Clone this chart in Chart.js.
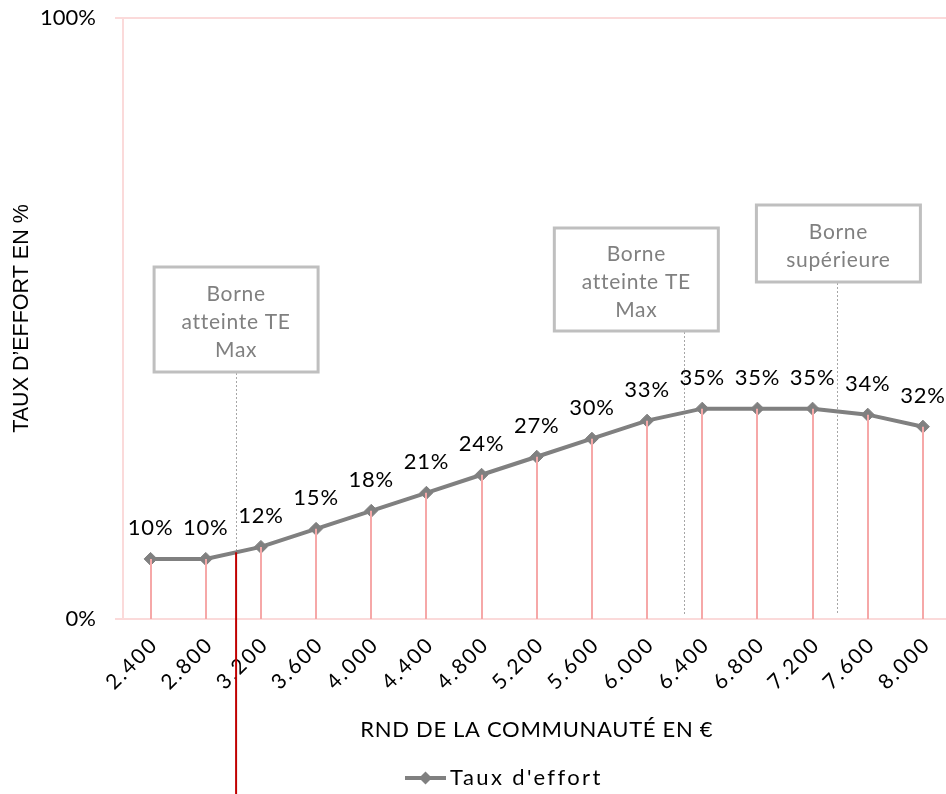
<!DOCTYPE html>
<html>
<head>
<meta charset="utf-8">
<script src="https://cdn.jsdelivr.net/npm/chart.js@4.4.1/dist/chart.umd.min.js"></script>
<style>
  html, body { margin: 0; padding: 0; background: #fff; overflow: hidden; }
  #wrap { position: relative; width: 958px; height: 794px; }
</style>
</head>
<body>
<div id="wrap"><canvas id="c" width="958" height="794"></canvas></div>
<script>
// RND categories (income of the household community, in euros)
const rndLabels = ['2.400', '2.800', '3.200', '3.600', '4.000', '4.400', '4.800', '5.200',
                   '5.600', '6.000', '6.400', '6.800', '7.200', '7.600', '8.000'];
const rndValues = [2400, 2800, 3200, 3600, 4000, 4400, 4800, 5200,
                   5600, 6000, 6400, 6800, 7200, 7600, 8000];
// Effort rate for each RND
const tauxEffort = [0.10, 0.10, 0.12, 0.15, 0.18, 0.21, 0.24, 0.27,
                    0.30, 0.33, 0.35, 0.35, 0.35, 0.34, 0.32];
const yTickValues = [0, 1];
const seriesName = "Taux d'effort";
// Threshold callouts: RND where each one points, and its text
const calloutRnd = [3020, 6270, 7380];
const calloutText = [['Borne', 'atteinte TE', 'Max'], ['Borne', 'atteinte TE', 'Max'], ['Borne', 'supérieure']];
// Current household RND marker
const currentRnd = 3020;

const FONT = 'Lato, "Open Sans", sans-serif';
const SANS = '"Liberation Sans", Arial, sans-serif';
const GRID_PINK = '#FBDADA';
const DROP_PINK = '#F6A8A8';
const LINE_GREY = '#808080';

// Box placement for the callouts (pixels, relative to the plot top / anchor)
const calloutBoxes = [
  { dx: 0,   top: 249, h: 105 },
  { dx: -48, top: 210, h: 103 },
  { dx: 1,   top: 187, h: 77 }
];
const BOX_W = 164;

// Scales whose tick labels and title can be drawn with extra tracking
function spacedScale(Base, id, tickSpacing, titleSpacing, tickShift) {
  class Spaced extends Base {
    drawLabels(area) {
      const c = this.ctx;
      c.save();
      c.letterSpacing = tickSpacing;
      c.translate(tickShift[0], tickShift[1]);
      super.drawLabels(area);
      c.restore();
    }
    drawTitle() {
      const c = this.ctx;
      c.save();
      c.letterSpacing = titleSpacing;
      super.drawTitle();
      c.restore();
    }
  }
  Spaced.id = id;
  Spaced.defaults = Base.defaults;
  return Spaced;
}
Chart.register(
  spacedScale(Chart.CategoryScale, 'spacedCategory', '2px', '0.7px', [4, 5]),
  spacedScale(Chart.LinearScale, 'spacedLinear', '0px', '0px', [0, 0])
);

function fracIndex(v) {
  for (let i = 0; i < rndValues.length - 1; i++) {
    if (v <= rndValues[i + 1]) return i + (v - rndValues[i]) / (rndValues[i + 1] - rndValues[i]);
  }
  return rndValues.length - 1;
}
function xForRnd(xs, v) {
  const f = fracIndex(v), i = Math.floor(f), t = f - i;
  const p0 = xs.getPixelForValue(i);
  const p1 = xs.getPixelForValue(Math.min(i + 1, rndValues.length - 1));
  return p0 + t * (p1 - p0);
}
function rateForRnd(v) {
  const f = fracIndex(v), i = Math.floor(f), t = f - i;
  const a = tauxEffort[i], b = tauxEffort[Math.min(i + 1, tauxEffort.length - 1)];
  return a + t * (b - a);
}

const overlay = {
  id: 'overlay',
  beforeDatasetsDraw(chart) {
    const { ctx, chartArea, scales: { x } } = chart;
    ctx.save();
    // dotted leader lines under the series
    ctx.strokeStyle = '#A6A6A6';
    ctx.lineWidth = 1;
    ctx.setLineDash([2, 2]);
    calloutRnd.forEach((v, k) => {
      const b = calloutBoxes[k];
      const ax = Math.round(xForRnd(x, v)) + 0.5;
      ctx.beginPath();
      ctx.moveTo(ax, chartArea.top + b.top + b.h + 1);
      ctx.lineTo(ax, chartArea.bottom - 5);
      ctx.stroke();
    });
    ctx.restore();
  },
  afterDatasetsDraw(chart) {
    const { ctx, chartArea, scales: { x, y } } = chart;
    const meta = chart.getDatasetMeta(0);
    ctx.save();
    // drop lines from each point to the axis
    ctx.strokeStyle = DROP_PINK;
    ctx.lineWidth = 2;
    meta.data.forEach(pt => {
      ctx.beginPath();
      ctx.moveTo(Math.round(pt.x), pt.y);
      ctx.lineTo(Math.round(pt.x), chartArea.bottom);
      ctx.stroke();
    });
    // value labels
    ctx.fillStyle = '#000';
    ctx.font = '22px ' + FONT;
    ctx.letterSpacing = '0.8px';
    ctx.textAlign = 'center';
    ctx.textBaseline = 'middle';
    meta.data.forEach((pt, i) => {
      ctx.fillText(Math.round(tauxEffort[i] * 100) + '%', pt.x, pt.y - 31);
    });
    // callout boxes
    ctx.letterSpacing = '0.7px';
    calloutRnd.forEach((v, k) => {
      const b = calloutBoxes[k];
      const cx = xForRnd(x, v) + b.dx;
      const top = chartArea.top + b.top;
      ctx.strokeStyle = '#BFBFBF';
      ctx.lineWidth = 3;
      ctx.fillStyle = '#fff';
      ctx.fillRect(cx - BOX_W / 2, top, BOX_W, b.h);
      ctx.strokeRect(cx - BOX_W / 2, top, BOX_W, b.h);
      ctx.fillStyle = '#808080';
      ctx.font = '21px ' + FONT;
      const lines = calloutText[k];
      const lh = 28;
      const startY = top + b.h / 2 + 3 - (lines.length - 1) * lh / 2;
      lines.forEach((s, j) => ctx.fillText(s, cx, startY + j * lh));
    });
    // current RND marker
    const rx = xForRnd(x, currentRnd);
    ctx.strokeStyle = '#C00000';
    ctx.lineWidth = 2;
    ctx.beginPath();
    ctx.moveTo(rx, y.getPixelForValue(rateForRnd(currentRnd)));
    ctx.lineTo(rx, chart.height);
    ctx.stroke();
    ctx.restore();
  },
  afterDraw(chart) {
    const { ctx } = chart;
    // legend
    const lx = 405, ly = 778;
    ctx.save();
    ctx.strokeStyle = LINE_GREY;
    ctx.lineWidth = 4;
    ctx.beginPath();
    ctx.moveTo(lx, ly);
    ctx.lineTo(lx + 41, ly);
    ctx.stroke();
    ctx.fillStyle = LINE_GREY;
    ctx.beginPath();
    ctx.moveTo(lx + 20.5, ly - 6.5);
    ctx.lineTo(lx + 27, ly);
    ctx.lineTo(lx + 20.5, ly + 6.5);
    ctx.lineTo(lx + 14, ly);
    ctx.closePath();
    ctx.fill();
    ctx.fillStyle = '#000';
    ctx.font = '22px ' + FONT;
    ctx.letterSpacing = '2.4px';
    ctx.textAlign = 'left';
    ctx.textBaseline = 'middle';
    ctx.fillText(seriesName, lx + 45, ly);
    ctx.restore();
  }
};

new Chart(document.getElementById('c'), {
  type: 'line',
  data: {
    labels: rndLabels,
    datasets: [{
      label: seriesName,
      data: tauxEffort,
      borderColor: LINE_GREY,
      backgroundColor: LINE_GREY,
      borderWidth: 4,
      pointStyle: 'rectRot',
      pointRadius: 6.5,
      pointBorderWidth: 1,
      pointBackgroundColor: LINE_GREY,
      pointBorderColor: LINE_GREY,
      tension: 0
    }]
  },
  options: {
    responsive: false,
    animation: false,
    layout: { padding: { top: 18, right: 2, left: 0, bottom: 0 } },
    plugins: { legend: { display: false }, tooltip: { enabled: false } },
    scales: {
      x: {
        type: 'spacedCategory',
        offset: true,
        grid: { display: false, drawTicks: false },
        border: { color: GRID_PINK, width: 2 },
        ticks: {
          color: '#000',
          font: { family: FONT, size: 21 },
          minRotation: 45, maxRotation: 45,
          padding: 8,
          autoSkip: false
        },
        title: {
          display: true,
          text: 'RND DE LA COMMUNAUTÉ EN €',
          color: '#000',
          font: { family: FONT, size: 22 },
          padding: { top: 0, bottom: 51 }
        },
        afterFit(scale) { scale.height = 175; }
      },
      y: {
        type: 'spacedLinear',
        min: 0, max: 1,
        afterBuildTicks(scale) { scale.ticks = yTickValues.map(v => ({ value: v })); },
        grid: { color: GRID_PINK, lineWidth: 2, tickLength: 8, drawTicks: true },
        border: { color: GRID_PINK, width: 2 },
        ticks: {
          color: '#000',
          font: { family: FONT, size: 22 },
          padding: 19,
          callback: v => Math.round(v * 100) + '%'
        },
        title: {
          display: true,
          text: 'TAUX D’EFFORT EN %',
          color: '#000',
          font: { family: SANS, size: 21.5 },
          padding: { top: 9, bottom: 0 }
        },
        afterFit(scale) {
          scale.width = 123;
          scale.paddingTop = 0;
          scale.paddingBottom = 0;
        }
      }
    }
  },
  plugins: [overlay]
});
</script>
</body>
</html>
